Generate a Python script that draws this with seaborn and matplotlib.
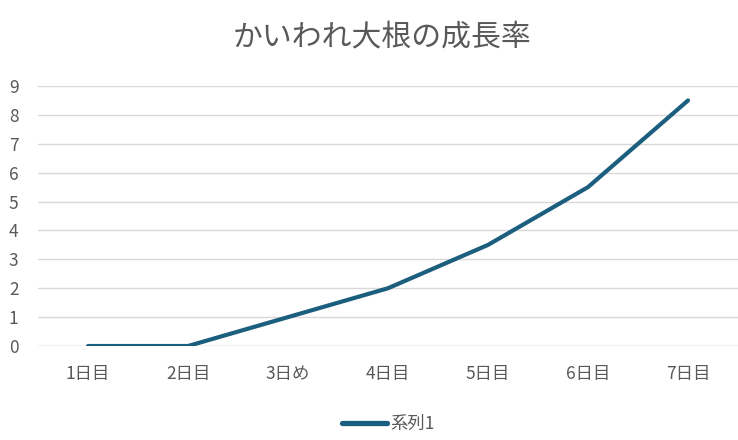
import matplotlib
matplotlib.use("Agg")
import matplotlib.pyplot as plt
import seaborn as sns
import pandas as pd

categories = ["1日目", "2日目", "3日め", "4日目", "5日目", "6日目", "7日目"]
values = [0, 0, 1, 2, 3.5, 5.5, 8.5]
series_name = "系列1"
title = "かいわれ大根の成長率"
yticks = list(range(0, 10))

sns.set_theme(style="white")
plt.rcParams['font.family'] = ['Noto Sans CJK JP', 'DejaVu Sans']

df = pd.DataFrame({"day": categories, "value": values, "series": series_name})

fig = plt.figure(figsize=(7.38, 4.40), dpi=100)
ax = fig.add_axes([0.0515, 0.2136, 0.9485, 0.5909])

line_color = "#1b5e7e"
text_color = "#595959"

sns.lineplot(data=df, x="day", y="value", hue="series", palette=[line_color],
             linewidth=3.0, ax=ax, sort=False)
for l in ax.lines:
    l.set_solid_capstyle("round")

ax.set_xlim(-0.5, len(categories) - 0.5)
ax.set_ylim(0, 9)
ax.set_yticks(yticks)
ax.set_yticklabels([str(t) for t in yticks])
ax.grid(axis="y", color="#d9d9d9", linewidth=1.0)
ax.set_axisbelow(True)
for s in ax.spines.values():
    s.set_visible(False)
ax.axhline(0, color="#d9d9d9", linewidth=1.0, zorder=0)
ax.tick_params(axis="both", length=0, labelsize=12.5, colors=text_color)
ax.tick_params(axis="x", pad=14)
ax.tick_params(axis="y", pad=21)
for lab in ax.get_yticklabels():
    lab.set_horizontalalignment("left")
ax.set_xlabel("")
ax.set_ylabel("")

fig.text(0.518, 0.916, title, ha="center", va="center", fontsize=21.5, color=text_color)

leg = ax.legend(loc="center", bbox_to_anchor=(0.5, -0.3), frameon=False,
                fontsize=12.5, handlelength=2.6, handletextpad=0.2, ncol=1)
for t in leg.get_texts():
    t.set_color(text_color)
for h in leg.get_lines():
    h.set_linewidth(3.8)
    h.set_solid_capstyle("round")

fig.savefig("out.png", dpi=100)
